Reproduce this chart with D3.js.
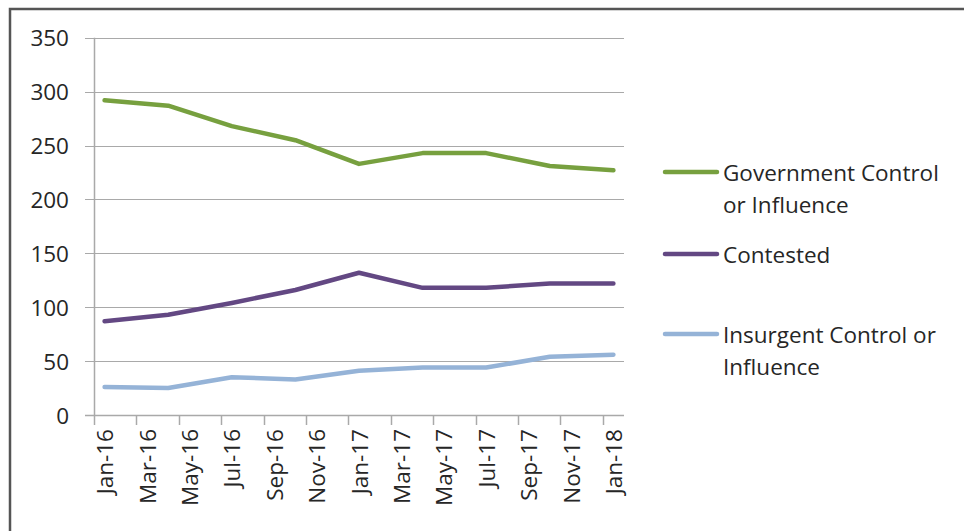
<!DOCTYPE html>
<html>
<head>
<meta charset="utf-8">
<script src="https://cdn.jsdelivr.net/npm/d3@7"></script>
<style>
  html, body { margin: 0; padding: 0; background: #fff; }
  svg { display: block; }
  text { font-family: "Open Sans", Lato, sans-serif; fill: #262626; }
</style>
</head>
<body>
<svg id="chart" width="964" height="531"></svg>
<script>
// Monthly categories of the date axis (Jan-16 .. Jan-18)
const months = ["Jan-16","Feb-16","Mar-16","Apr-16","May-16","Jun-16","Jul-16","Aug-16","Sep-16","Oct-16","Nov-16","Dec-16",
                "Jan-17","Feb-17","Mar-17","Apr-17","May-17","Jun-17","Jul-17","Aug-17","Sep-17","Oct-17","Nov-17","Dec-17",
                "Jan-18"];
// Labelled months on the axis
const tickLabels = ["Jan-16","Mar-16","May-16","Jul-16","Sep-16","Nov-16","Jan-17","Mar-17","May-17","Jul-17","Sep-17","Nov-17","Jan-18"];
const yTicks = [0, 50, 100, 150, 200, 250, 300, 350];

// Quarterly observations
const obsMonths  = ["Jan-16","Apr-16","Jul-16","Oct-16","Jan-17","Apr-17","Jul-17","Oct-17","Jan-18"];
const government = [292, 287, 268, 255, 233, 243, 243, 231, 227];
const contested  = [87, 93, 104, 116, 132, 118, 118, 122, 122];
const insurgent  = [26, 25, 35, 33, 41, 44, 44, 54, 56];

const seriesNames = ["Government Control or Influence", "Contested", "Insurgent Control or Influence"];
const seriesColors = ["#77A03F", "#634883", "#95B3D7"];
const seriesValues = [government, contested, insurgent];

const svg = d3.select("#chart");
const fontSize = "22.5px";

// outer frame
svg.append("path")
  .attr("d", "M10,531 V9 H964")
  .attr("fill", "none").attr("stroke", "#555").attr("stroke-width", 2.5);

const x = d3.scaleBand().domain(months).range([94, 624]).paddingInner(0).paddingOuter(0);
const y = d3.scaleLinear().domain([0, 350]).range([415, 37.8]);

const grid = "#A9A9A9";

// horizontal gridlines with outside ticks
svg.append("g").selectAll("line").data(yTicks.filter(d => d > 0)).join("line")
  .attr("x1", 85).attr("x2", 624)
  .attr("y1", d => Math.round(y(d)) + 0.5).attr("y2", d => Math.round(y(d)) + 0.5)
  .attr("stroke", grid).attr("stroke-width", 1);

// y axis labels
svg.append("g").selectAll("text").data(yTicks).join("text")
  .attr("x", 69).attr("y", d => y(d))
  .attr("text-anchor", "end").attr("dominant-baseline", "central")
  .style("font-size", fontSize)
  .text(d => d);

// y axis line
svg.append("line").attr("x1", 94.5).attr("x2", 94.5).attr("y1", y(350)).attr("y2", 415)
  .attr("stroke", grid).attr("stroke-width", 1.5);

// x axis line
svg.append("line").attr("x1", 85).attr("x2", 624).attr("y1", 415.5).attr("y2", 415.5)
  .attr("stroke", grid).attr("stroke-width", 1.5);

// x axis ticks at the start of each labelled month
svg.append("g").selectAll("line").data(tickLabels).join("line")
  .attr("x1", d => Math.round(x(d)) + 0.5).attr("x2", d => Math.round(x(d)) + 0.5)
  .attr("y1", 415).attr("y2", 425)
  .attr("stroke", grid).attr("stroke-width", 1.5);

// x axis labels, rotated
svg.append("g").selectAll("text").data(tickLabels).join("text")
  .attr("transform", d => `translate(${x(d) + x.bandwidth() / 2},429) rotate(-90)`)
  .attr("text-anchor", "end").attr("dominant-baseline", "central")
  .style("font-size", fontSize)
  .text(d => d);

// series lines
const line = d3.line()
  .x((d, i) => x(obsMonths[i]) + x.bandwidth() / 2)
  .y(d => y(d));

seriesValues.forEach((vals, k) => {
  svg.append("path").datum(vals)
    .attr("d", line)
    .attr("fill", "none")
    .attr("stroke", seriesColors[k])
    .attr("stroke-width", 4.5)
    .attr("stroke-linejoin", "round")
    .attr("stroke-linecap", "round");
});

// legend
const legendRows = [
  { lines: ["Government Control", "or Influence"], y: 172 },
  { lines: ["Contested"], y: 254 },
  { lines: ["Insurgent Control or", "Influence"], y: 334 }
];
legendRows.forEach((row, k) => {
  svg.append("line")
    .attr("x1", 665).attr("x2", 717).attr("y1", row.y).attr("y2", row.y)
    .attr("stroke", seriesColors[k]).attr("stroke-width", 4.5).attr("stroke-linecap", "round");
  row.lines.forEach((t, j) => {
    svg.append("text")
      .attr("x", 723).attr("y", row.y + j * 32)
      .attr("dominant-baseline", "central")
      .style("font-size", fontSize)
      .text(t);
  });
});
</script>
</body>
</html>
